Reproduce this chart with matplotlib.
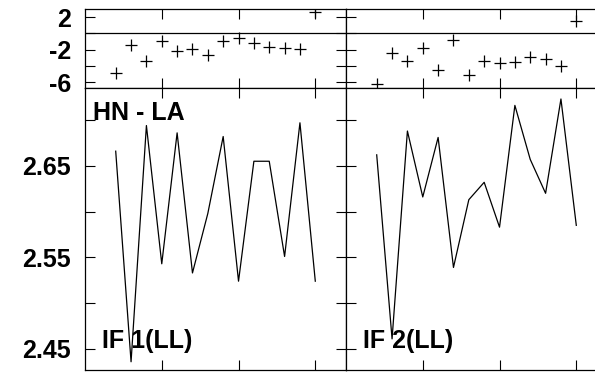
import matplotlib.pyplot as plt

plt.rcParams['font.family'] = ['Liberation Sans', 'DejaVu Sans']
plt.rcParams['font.weight'] = 'bold'

# scan index shared by both panels
scan = [2, 3, 4, 5, 6, 7, 8, 9, 10, 11, 12, 13, 14, 15]

# residuals (upper strip)
resid_if1 = [-4.83, -1.44, -3.44, -0.94, -2.13, -1.96, -2.70, -0.94, -0.61, -1.23, -1.64, -1.77, -1.96, 2.61]
resid_if2 = [-6.22, -2.42, -3.40, -1.80, -4.50, -0.82, -5.12, -3.40, -3.64, -3.52, -2.91, -3.15, -4.01, 1.51]

# ratio values (lower panel)
ratio_if1 = [2.666, 2.436, 2.694, 2.543, 2.686, 2.533, 2.598, 2.682, 2.524, 2.655, 2.655, 2.551, 2.697, 2.524]
ratio_if2 = [2.662, 2.461, 2.688, 2.616, 2.681, 2.539, 2.613, 2.632, 2.583, 2.716, 2.657, 2.620, 2.723, 2.585]

title = 'HN - LA'
panel_labels = ['IF 1(LL)', 'IF 2(LL)']

resid_ticks = [2, 0, -2, -4, -6]
resid_labels = ['2', '', '-2', '', '-6']
ratio_ticks = [2.45, 2.50, 2.55, 2.60, 2.65, 2.70]
ratio_labels = ['2.45', '', '2.55', '', '2.65', '']

W, H = 595, 373
fig = plt.figure(figsize=(W / 100, H / 100), dpi=100)


def add_ax(x0, y0, x1, y1):
    # pixel box -> figure fraction
    return fig.add_axes([x0 / W, 1 - y1 / H, (x1 - x0) / W, (y1 - y0) / H])


def style(ax, show_labels):
    for s in ax.spines.values():
        s.set_linewidth(0.9)
    ax.tick_params(direction='in', length=7, width=0.8, top=True, right=True,
                   labelbottom=False, labelleft=show_labels, labelsize=18, pad=10)
    ax.set_xlim(0, 17)
    ax.set_xticks([5, 10, 15])


panel_w = 261
for col, (resid, ratio) in enumerate([(resid_if1, ratio_if1), (resid_if2, ratio_if2)]):
    left = 85 + col * panel_w
    top = add_ax(left, 9, left + panel_w, 88)
    bot = add_ax(left, 88, left + panel_w, 370)

    top.plot(scan, resid, '+', color='black', ms=8, mew=0.9)
    top.axhline(0, color='black', lw=0.9)
    top.set_ylim(-6.7, 3.0)
    top.set_yticks(resid_ticks)
    top.set_yticklabels(resid_labels)
    style(top, col == 0)

    bot.plot(scan, ratio, color='black', lw=0.9)
    bot.set_ylim(2.427, 2.735)
    bot.set_yticks(ratio_ticks)
    bot.set_yticklabels(ratio_labels)
    style(bot, col == 0)

    bot.text(0.065, 0.078, panel_labels[col], transform=bot.transAxes,
             fontsize=18, fontweight='bold', va='baseline', ha='left')
    if col == 0:
        bot.text(0.031, 0.888, title, transform=bot.transAxes,
                 fontsize=18, fontweight='bold', va='baseline', ha='left')

fig.savefig('out.png', dpi=100)
